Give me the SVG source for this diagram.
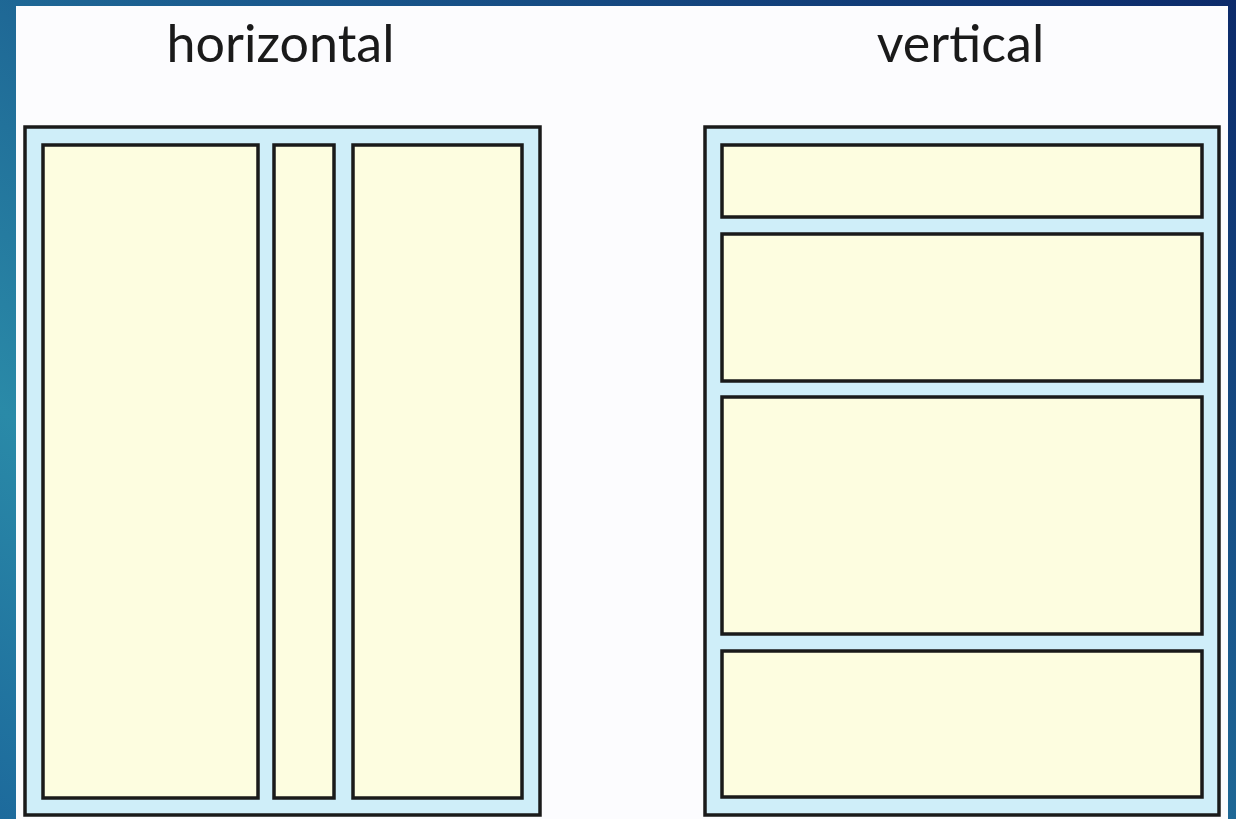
<svg xmlns="http://www.w3.org/2000/svg" width="1236" height="819" viewBox="0 0 1236 819">
<defs>
<linearGradient id="bg" x1="0" y1="1" x2="1" y2="0">
<stop offset="0" stop-color="#1d6a9c"/>
<stop offset="0.25" stop-color="#2a8aa8"/>
<stop offset="0.6" stop-color="#1a5a8e"/>
<stop offset="1" stop-color="#0c2a6a"/>
</linearGradient>
<style>
.outer{fill:#cfeef9;stroke:#1a1a1a;stroke-width:3.5}
.cell{fill:#fdfde0;stroke:#1a1a1a;stroke-width:3.5}
.lbl{font-family:Lato,"Open Sans","Liberation Sans",sans-serif;font-size:52px;fill:#1a1a1a;text-anchor:middle}
</style>
</defs>
<rect x="0" y="0" width="1236" height="819" fill="url(#bg)"/>
<rect x="16" y="6" width="1212" height="813" fill="#fcfcfe"/>
<text class="lbl" x="280.5" y="62">horizontal</text>
<text class="lbl" x="960.5" y="62">vertical</text>
<g id="horizontal">
<rect class="outer" x="25" y="127" width="515" height="688"/>
<rect class="cell" x="43" y="145" width="215" height="653"/>
<rect class="cell" x="274" y="145" width="60" height="653"/>
<rect class="cell" x="353" y="145" width="169" height="653"/>
</g>
<g id="vertical">
<rect class="outer" x="705" y="127" width="514" height="688"/>
<rect class="cell" x="722" y="145" width="480" height="72"/>
<rect class="cell" x="722" y="234" width="480" height="147"/>
<rect class="cell" x="722" y="397" width="480" height="237"/>
<rect class="cell" x="722" y="651" width="480" height="146"/>
</g>
<g id="connectors"/>
</svg>
